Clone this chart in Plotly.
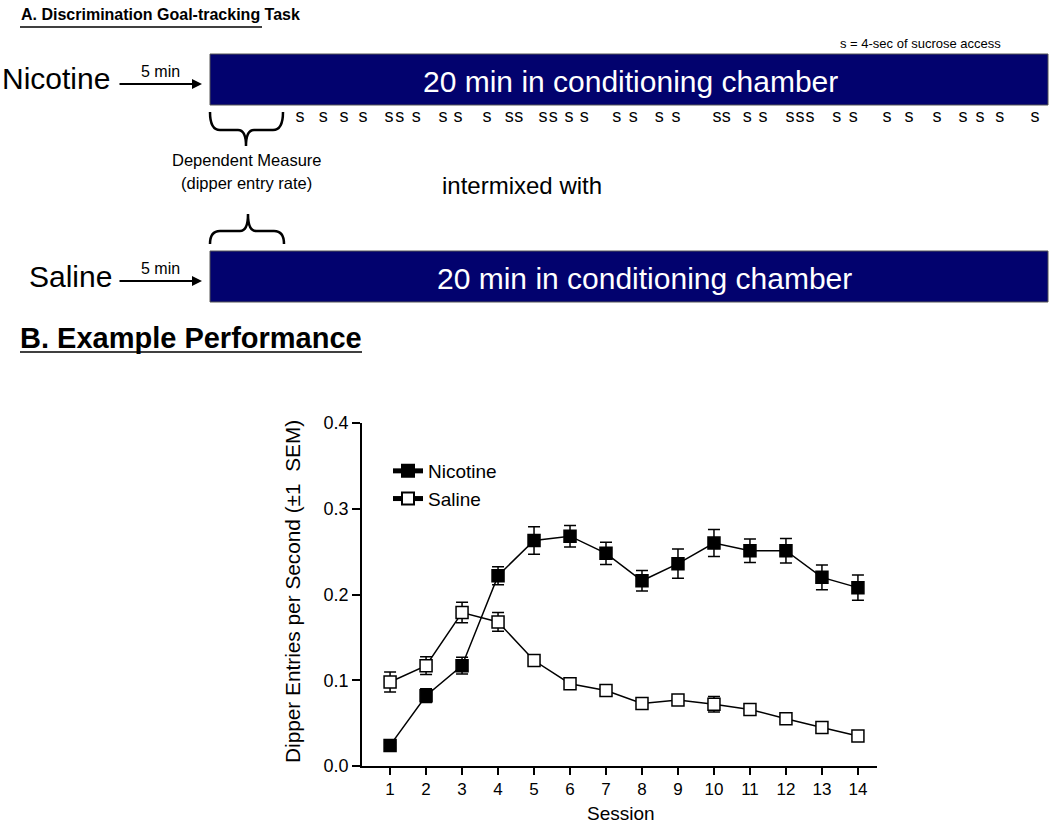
import plotly.graph_objects as go

# ---------------- data ----------------
sessions = list(range(1, 15))
nicotine_mean = [0.024, 0.082, 0.117, 0.222, 0.263, 0.268, 0.248, 0.216, 0.236, 0.260, 0.251, 0.251, 0.220, 0.208]
nicotine_sem = [0.003, 0.008, 0.0097, 0.0105, 0.016, 0.0125, 0.013, 0.012, 0.017, 0.0157, 0.0136, 0.0144, 0.0144, 0.0146]
saline_mean = [0.098, 0.117, 0.179, 0.168, 0.123, 0.096, 0.088, 0.073, 0.077, 0.072, 0.066, 0.055, 0.045, 0.035]
saline_sem = [0.0117, 0.0103, 0.012, 0.011, 0.004, 0.004, 0.003, 0.003, 0.004, 0.009, 0.003, 0.003, 0.003, 0.003]
y_ticks = [0.0, 0.1, 0.2, 0.3, 0.4]
# sucrose deliveries (minutes into the 20-min session)
sucrose_times_min = [2.15, 2.70, 3.20, 3.65, 4.27, 4.53, 4.92, 5.56, 5.92, 6.61, 7.14, 7.37,
                     7.95, 8.19, 8.57, 8.93, 9.71, 10.10, 10.72, 11.12, 12.10, 12.32, 12.82,
                     13.20, 13.84, 14.08, 14.32, 14.96, 15.35, 16.16, 16.68, 17.35, 17.97,
                     18.38, 18.85, 19.69]

W, H = 1050, 824
ARIAL = "Arial, Liberation Sans, Helvetica, sans-serif"
NAVY = "#02026e"

fig = go.Figure()

# ---------------- panel B chart ----------------
fig.add_trace(go.Scatter(
    x=sessions, y=nicotine_mean, name="Nicotine", mode="lines+markers",
    line=dict(color="black", width=1.5),
    marker=dict(symbol="square", size=12, color="black", line=dict(color="black", width=1.5)),
    error_y=dict(type="data", array=nicotine_sem, visible=True, color="black", thickness=1.5, width=6),
    xaxis="x", yaxis="y"))
fig.add_trace(go.Scatter(
    x=sessions, y=saline_mean, name="Saline", mode="lines+markers",
    line=dict(color="black", width=1.5),
    marker=dict(symbol="square", size=12, color="white", line=dict(color="black", width=1.5)),
    error_y=dict(type="data", array=saline_sem, visible=True, color="black", thickness=1.5, width=6),
    xaxis="x", yaxis="y"))

# sucrose "s" marks along the 20-minute bar
fig.add_trace(go.Scatter(
    x=sucrose_times_min, y=[117] * len(sucrose_times_min), mode="text",
    text=["s"] * len(sucrose_times_min), textfont=dict(family=ARIAL, size=18, color="black"),
    showlegend=False, hoverinfo="skip", xaxis="x3", yaxis="y2"))

# pixel-space overlay axes
fig.add_trace(go.Scatter(x=[], y=[], xaxis="x2", yaxis="y2", showlegend=False, hoverinfo="skip"))

shapes = []
def px_rect(x0, y0, x1, y1, fill, line_col, lw):
    shapes.append(dict(type="rect", xref="x2", yref="y2", x0=x0, y0=y0, x1=x1, y1=y1,
                       fillcolor=fill, line=dict(color=line_col, width=lw), layer="above"))

def px_line(x0, y0, x1, y1, lw=1.5):
    shapes.append(dict(type="line", xref="x2", yref="y2", x0=x0, y0=y0, x1=x1, y1=y1,
                       line=dict(color="black", width=lw)))

px_rect(210, 54, 1048, 105, NAVY, "#555555", 1)
px_rect(210, 251, 1048, 302, NAVY, "#555555", 1)

# braces
shapes.append(dict(type="path", xref="x2", yref="y2",
                   path="M 210,112 Q 210,130 220,130 L 238,130 Q 246,130 246,146 "
                        "Q 246,130 254,130 L 273,130 Q 283,130 283,112",
                   line=dict(color="black", width=2.5)))
shapes.append(dict(type="path", xref="x2", yref="y2",
                   path="M 210,244 Q 210,231 220,231 L 240,231 Q 248,231 248,214 "
                        "Q 248,231 256,231 L 274,231 Q 284,231 284,244",
                   line=dict(color="black", width=2.5)))

# title underlines
px_line(20, 27, 262, 27, 1.5)
px_line(20, 352, 362, 352, 1.5)

annotations = []
def txt(x, y, s, size, family=ARIAL, color="black", xanchor="center", angle=0):
    annotations.append(dict(xref="x2", yref="y2", x=x, y=y, text=s, showarrow=False,
                            xanchor=xanchor, yanchor="middle", textangle=angle,
                            font=dict(family=family, size=size, color=color)))

txt(19, 14, "<b>A. Discrimination Goal-tracking Task</b>", 16, xanchor="left")
txt(1003, 43, "s = 4-sec of sucrose access", 13, xanchor="right")
txt(0, 78, "Nicotine", 30, xanchor="left")
txt(160, 71, "5 min", 16)
txt(630, 81, "20 min in conditioning chamber", 30, color="white")
txt(247, 160, "Dependent Measure", 16.5)
txt(246, 183, "(dipper entry rate)", 16.5)
txt(522, 185, "intermixed with", 24)
txt(27, 276, "Saline", 30, xanchor="left")
txt(160, 268, "5 min", 16)
txt(644, 278, "20 min in conditioning chamber", 30, color="white")
txt(18, 338, "<b>B. Example Performance</b>", 29, xanchor="left")
txt(292, 592, "Dipper Entries per Second (±1  SEM)", 20.8, angle=-90)
txt(621, 813, "Session", 19)

for yy in (84, 281):
    annotations.append(dict(xref="x2", yref="y2", x=202, y=yy, axref="x2", ayref="y2",
                            ax=118, ay=yy, text="", showarrow=True, arrowhead=2,
                            arrowsize=1, arrowwidth=2, arrowcolor="black"))

fig.update_layout(
    width=W, height=H, margin=dict(l=0, r=0, t=0, b=0),
    paper_bgcolor="white", plot_bgcolor="rgba(0,0,0,0)",
    font=dict(family=ARIAL, size=17, color="black"),
    shapes=shapes, annotations=annotations,
    showlegend=True,
    legend=dict(x=388 / W, y=1 - 452 / H, xanchor="left", yanchor="top",
                bgcolor="rgba(0,0,0,0)", font=dict(size=19, family=ARIAL),
                tracegroupgap=0, itemsizing="constant"),
    xaxis=dict(domain=[362 / W, 877 / W], range=[0.22, 14.53], anchor="y",
               tickmode="array", tickvals=sessions, ticktext=[str(s) for s in sessions],
               showline=True, linecolor="black", linewidth=1.5, ticks="outside",
               ticklen=7, tickwidth=1.5, tickcolor="black", showgrid=False, zeroline=False,
               tickfont=dict(size=17), automargin=False),
    yaxis=dict(domain=[1 - 766 / H, 1 - 423 / H], range=[0, 0.4], anchor="x",
               tickmode="array", tickvals=y_ticks, ticktext=[f"{v:.1f}" for v in y_ticks],
               showline=True, linecolor="black", linewidth=1.5, ticks="outside",
               ticklen=8, tickwidth=1.5, tickcolor="black", showgrid=False, zeroline=False,
               tickfont=dict(size=18), automargin=False),
    xaxis2=dict(domain=[0, 1], range=[0, W], visible=False, anchor="y2", fixedrange=True),
    yaxis2=dict(domain=[0, 1], range=[H, 0], visible=False, anchor="x2", fixedrange=True),
    xaxis3=dict(domain=[210 / W, 1048 / W], range=[0, 20], visible=False, anchor="y2", fixedrange=True),
)

fig.write_html("out.html", config={"displayModeBar": False},
               post_script="document.body.style.margin='0';document.body.style.overflow='hidden';")
